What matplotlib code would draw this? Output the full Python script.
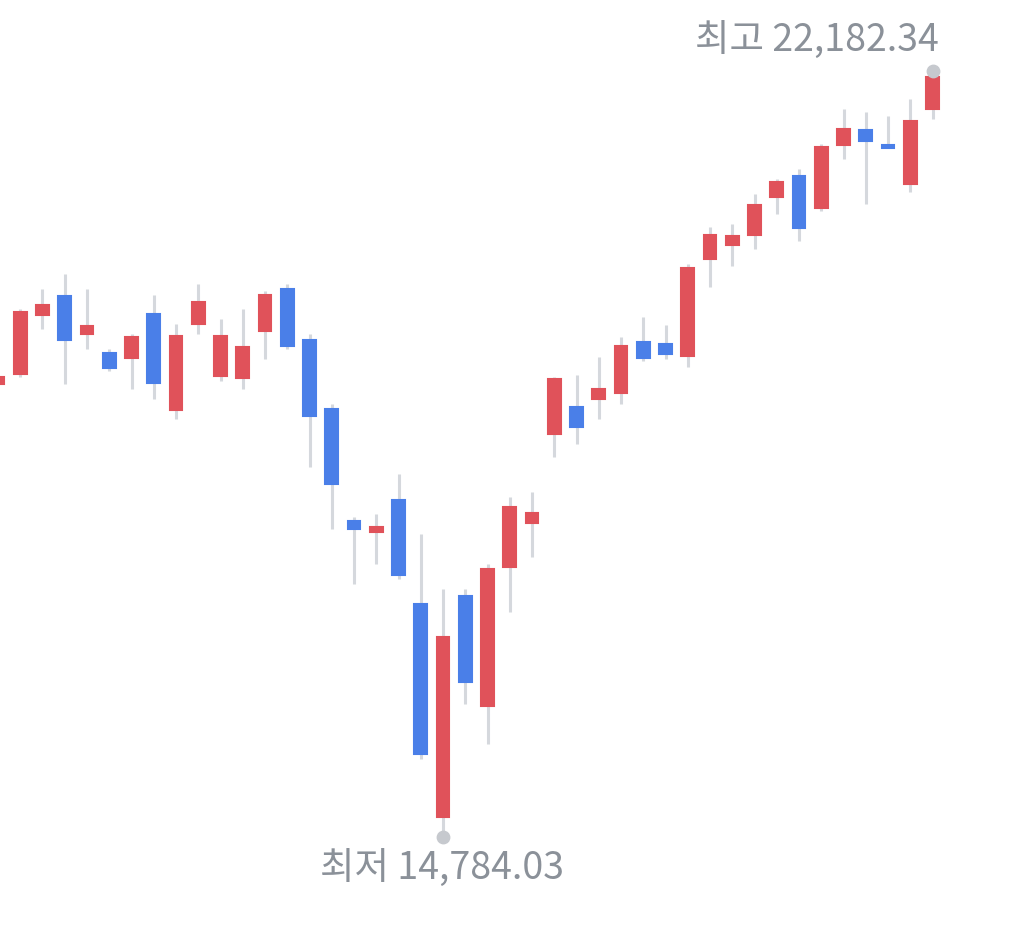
import matplotlib
matplotlib.use("Agg")
import matplotlib.pyplot as plt

plt.rcParams['font.family'] = ['Noto Sans CJK KR', 'DejaVu Sans']

opens  = [19160,19257,19827,20010,19643,19459,19411,19836,18909,19740,19237,19218,19672,20078,19585,18918,17837,17730,18039,17035,14977,17112,16049,17392,17817,18677,18938,19015,19073,19566,19546,19430,20367,20503,20599,20966,21169,20860,21469,21614,21469,21092,21816]
closes = [19228,19856,19923,19585,19720,19315,19614,19170,19624,19952,19624,19517,20020,19527,18851,18194,17759,17779,17315,15586,16716,16281,17373,17972,17914,19208,18745,19112,19527,19411,19450,20281,20599,20590,20889,21111,20667,21449,21623,21507,21440,21701,22126]
highs  = [19257,19884,20078,20223,20078,19498,19643,20020,19740,20126,19788,19884,20058,20126,19643,18967,17875,17904,18291,17711,17180,17180,17421,18068,18117,19228,19247,19421,19614,19807,19730,20319,20677,20706,20995,21140,21237,21478,21816,21788,21749,21913,22182.34]
lows   = [19112,19228,19691,19160,19498,19286,19112,19015,18822,19643,19189,19112,19401,19498,18358,17759,17228,17421,17276,15537,14784.03,16069,15682,16958,17489,18455,18580,18822,18967,19382,19401,19324,20097,20300,20464,20802,20541,20831,21333,20899,21440,21015,21720]

UP = '#e0525a'
DOWN = '#4a7fe8'
WICK = '#d5d8dd'
GRAY = '#8b9199'

fig = plt.figure(figsize=(10.24, 9.37), dpi=100)
ax = fig.add_axes([0, 0, 1, 1])
idx = list(range(len(opens)))
ax.vlines(idx, lows, highs, color=WICK, linewidth=2.2, zorder=1)
for i, (o, c) in enumerate(zip(opens, closes)):
    col = UP if c >= o else DOWN
    lo, hi = min(o, c), max(o, c)
    h = max(hi - lo, 25)
    ax.bar(i, h, bottom=lo if hi - lo >= 25 else (lo + hi) / 2 - 12.5, width=0.58,
           color=col, edgecolor=col, linewidth=1.5, zorder=2)

hi_i = highs.index(max(highs))
lo_i = lows.index(min(lows))
ax.scatter([hi_i, lo_i], [highs[hi_i], lows[lo_i]], s=80, color='#c6c9ce', zorder=3)
ax.text(hi_i + 0.3, highs[hi_i] + 290, '최고 22,182.34', ha='right', va='center',
        fontsize=27, color=GRAY)
ax.text(lo_i - 0.05, lows[lo_i] - 300, '최저 14,784.03', ha='center', va='center',
        fontsize=27, color=GRAY)

ax.set_xlim(0.09, 46.11)
ax.set_ylim(13828, 22877)
ax.axis('off')
fig.savefig('out.png', dpi=100, facecolor='white')
